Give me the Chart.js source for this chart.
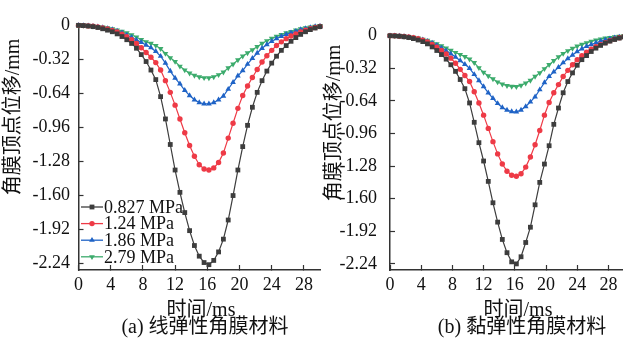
<!DOCTYPE html>
<html>
<head>
<meta charset="utf-8">
<script src="https://cdn.jsdelivr.net/npm/chart.js@4.4.1/dist/chart.umd.min.js"></script>
<style>
  html, body { margin: 0; padding: 0; background: #fff; width: 623px; height: 342px; overflow: hidden; }
  .panel { position: absolute; top: 0; width: 410px; height: 342px; }
  #wrapA { left: 0; }
  #wrapB { left: 318px; }
</style>
</head>
<body>
<div class="panel" id="wrapA"><canvas id="chartA" width="410" height="342"></canvas></div>
<div class="panel" id="wrapB"><canvas id="chartB" width="410" height="342"></canvas></div>
<script>
// time axis (ms)
var times = [0,0.6,1.2,1.8,2.4,3,3.6,4.2,4.8,5.4,6,6.6,7.2,7.8,8.4,9,9.6,10.2,10.8,11.4,12,12.6,13.2,13.8,14.4,15,15.6,16.2,16.8,17.4,18,18.6,19.2,19.8,20.4,21,21.6,22.2,22.8,23.4,24,24.6,25.2,25.8,26.4,27,27.6,28.2,28.8,29.4,30];
var xTicks = [0,4,8,12,16,20,24,28];
var yTicks = [0,-0.32,-0.64,-0.96,-1.28,-1.60,-1.92,-2.24];
var seriesNames = ['0.827 MPa','1.24 MPa','1.86 MPa','2.79 MPa'];

// (a) linear elastic
var linBlack = [0,-0.002,-0.006,-0.012,-0.02,-0.032,-0.045,-0.06,-0.08,-0.105,-0.135,-0.17,-0.215,-0.275,-0.34,-0.42,-0.51,-0.67,-0.88,-1.12,-1.36,-1.57,-1.76,-1.93,-2.07,-2.17,-2.23,-2.25,-2.21,-2.13,-2.01,-1.83,-1.60,-1.36,-1.14,-0.94,-0.77,-0.63,-0.52,-0.43,-0.355,-0.29,-0.235,-0.19,-0.15,-0.115,-0.085,-0.06,-0.04,-0.025,-0.012];
var linRed = [0,-0.002,-0.005,-0.009,-0.015,-0.024,-0.034,-0.047,-0.063,-0.083,-0.107,-0.135,-0.17,-0.21,-0.255,-0.30,-0.35,-0.42,-0.52,-0.63,-0.75,-0.88,-1.01,-1.13,-1.23,-1.31,-1.35,-1.36,-1.34,-1.29,-1.20,-1.06,-0.92,-0.78,-0.66,-0.57,-0.49,-0.415,-0.345,-0.285,-0.235,-0.19,-0.155,-0.125,-0.10,-0.08,-0.062,-0.046,-0.032,-0.02,-0.01];
var linBlue = [0,-0.002,-0.004,-0.008,-0.013,-0.02,-0.029,-0.04,-0.054,-0.071,-0.09,-0.112,-0.137,-0.16,-0.185,-0.21,-0.245,-0.29,-0.355,-0.43,-0.495,-0.55,-0.61,-0.66,-0.70,-0.725,-0.737,-0.737,-0.725,-0.70,-0.665,-0.60,-0.535,-0.475,-0.425,-0.365,-0.31,-0.26,-0.215,-0.18,-0.15,-0.125,-0.103,-0.085,-0.07,-0.055,-0.04,-0.03,-0.02,-0.012,-0.006];
var linGreen = [0,-0.001,-0.004,-0.007,-0.011,-0.017,-0.024,-0.033,-0.044,-0.057,-0.072,-0.09,-0.11,-0.135,-0.155,-0.17,-0.19,-0.22,-0.265,-0.305,-0.34,-0.385,-0.42,-0.45,-0.47,-0.485,-0.493,-0.495,-0.485,-0.465,-0.44,-0.40,-0.365,-0.325,-0.29,-0.26,-0.23,-0.20,-0.17,-0.145,-0.123,-0.104,-0.087,-0.072,-0.058,-0.045,-0.034,-0.025,-0.017,-0.01,-0.005];

// (b) viscoelastic
var visBlack = [0,-0.002,-0.005,-0.01,-0.018,-0.028,-0.042,-0.058,-0.08,-0.11,-0.145,-0.185,-0.23,-0.285,-0.35,-0.43,-0.52,-0.66,-0.85,-1.05,-1.23,-1.43,-1.64,-1.83,-2.00,-2.13,-2.22,-2.24,-2.17,-2.03,-1.88,-1.66,-1.44,-1.26,-1.08,-0.87,-0.71,-0.56,-0.45,-0.365,-0.29,-0.235,-0.195,-0.155,-0.122,-0.095,-0.072,-0.053,-0.037,-0.023,-0.012];
var visRed = [0,-0.001,-0.004,-0.008,-0.013,-0.02,-0.03,-0.043,-0.06,-0.085,-0.113,-0.145,-0.18,-0.22,-0.27,-0.33,-0.39,-0.45,-0.55,-0.66,-0.78,-0.91,-1.04,-1.16,-1.26,-1.33,-1.37,-1.38,-1.355,-1.29,-1.19,-1.07,-0.93,-0.78,-0.655,-0.56,-0.48,-0.40,-0.34,-0.285,-0.235,-0.196,-0.162,-0.133,-0.108,-0.087,-0.068,-0.05,-0.033,-0.02,-0.01];
var visBlue = [0,-0.001,-0.004,-0.008,-0.013,-0.02,-0.03,-0.041,-0.055,-0.073,-0.095,-0.12,-0.148,-0.178,-0.21,-0.245,-0.28,-0.32,-0.38,-0.44,-0.50,-0.56,-0.615,-0.665,-0.705,-0.73,-0.745,-0.748,-0.73,-0.695,-0.65,-0.60,-0.53,-0.46,-0.40,-0.355,-0.31,-0.265,-0.225,-0.19,-0.155,-0.128,-0.105,-0.086,-0.069,-0.054,-0.041,-0.03,-0.02,-0.012,-0.006];
var visGreen = [0,-0.001,-0.003,-0.007,-0.011,-0.017,-0.025,-0.035,-0.047,-0.062,-0.08,-0.1,-0.122,-0.145,-0.165,-0.185,-0.205,-0.23,-0.265,-0.315,-0.36,-0.395,-0.425,-0.455,-0.475,-0.49,-0.498,-0.5,-0.487,-0.465,-0.438,-0.40,-0.365,-0.325,-0.285,-0.245,-0.208,-0.175,-0.148,-0.125,-0.103,-0.085,-0.07,-0.056,-0.044,-0.034,-0.025,-0.018,-0.012,-0.007,-0.003];

var colors = ['#3d3d3d','#ee3a46','#1f63c6','#3cab6c'];
var markers = ['rect','circle','triangle','triangle'];
var markerRot = [0,0,0,180];
var markerSize = [3.4,2.7,3.3,3.3];

var serif = '"Liberation Serif", "Times New Roman", "Noto Sans CJK SC", serif';

function toPoints(vals) {
  return vals.map(function(v, i){ return {x: times[i], y: v}; });
}

function makeSets(list) {
  return list.map(function(vals, i){
    return {
      label: seriesNames[i],
      data: toPoints(vals),
      borderColor: colors[i],
      backgroundColor: colors[i],
      borderWidth: 1.2,
      pointStyle: markers[i],
      pointRotation: markerRot[i],
      pointRadius: markerSize[i],
      pointBorderWidth: 0,
      pointBackgroundColor: colors[i],
      tension: 0,
      clip: false
    };
  });
}

function drawMarker(ctx, style, rot, x, y, r, color) {
  ctx.fillStyle = color;
  ctx.beginPath();
  if (style === 'rect') {
    var s = r * Math.SQRT1_2;
    ctx.rect(x - s, y - s, 2 * s, 2 * s);
  } else if (style === 'circle') {
    ctx.arc(x, y, r, 0, Math.PI * 2);
  } else {
    var d = rot === 180 ? -1 : 1;
    ctx.moveTo(x, y - d * r);
    ctx.lineTo(x - r * 0.866, y + d * r * 0.5);
    ctx.lineTo(x + r * 0.866, y + d * r * 0.5);
    ctx.closePath();
  }
  ctx.fill();
}

// legend drawn inside the plot, lower left
var legendInside = {
  id: 'legendInside',
  afterDatasetsDraw: function(chart, args, opts) {
    var ctx = chart.ctx;
    chart.data.datasets.forEach(function(ds, i){
      var y = opts.y + i * opts.row;
      ctx.save();
      ctx.strokeStyle = ds.borderColor;
      ctx.lineWidth = 1.3;
      ctx.beginPath();
      ctx.moveTo(opts.x, y);
      ctx.lineTo(opts.x + opts.len, y);
      ctx.stroke();
      drawMarker(ctx, ds.pointStyle, ds.pointRotation, opts.x + opts.len / 2, y, ds.pointRadius, ds.borderColor);
      ctx.fillStyle = '#111';
      ctx.font = '18px ' + serif;
      ctx.textBaseline = 'middle';
      ctx.textAlign = 'left';
      ctx.fillText(ds.label, opts.x + opts.len + 1, y + 1);
      ctx.restore();
    });
  }
};

// axis titles and caption (positions in canvas px)
var textBits = {
  id: 'textBits',
  afterDraw: function(chart, args, opts) {
    var ctx = chart.ctx;
    opts.items.forEach(function(t){
      ctx.save();
      ctx.translate(t.x, t.y);
      if (t.rot) ctx.rotate(t.rot * Math.PI / 180);
      ctx.fillStyle = '#111';
      ctx.font = t.size + 'px ' + serif;
      ctx.textAlign = 'center';
      ctx.textBaseline = 'middle';
      ctx.fillText(t.text, 0, 0);
      ctx.restore();
    });
  }
};

function makeChart(id, list, cfg) {
  var axisCol = '#333';
  return new Chart(document.getElementById(id), {
    type: 'line',
    data: { datasets: makeSets(list) },
    plugins: cfg.legend ? [legendInside, textBits] : [textBits],
    options: {
      responsive: false,
      animation: false,
      events: [],
      layout: { padding: { top: cfg.top, right: cfg.right, left: 0, bottom: 24 } },
      plugins: {
        legend: { display: false },
        tooltip: { enabled: false },
        textBits: { items: [
          { text: '角膜顶点位移/mm', x: cfg.yTitle[0], y: cfg.yTitle[1], size: 20, rot: -90 },
          { text: '时间/ms', x: cfg.xTitle[0], y: cfg.xTitle[1], size: 20 },
          { text: cfg.caption, x: cfg.cap[0], y: cfg.cap[1], size: 20 }
        ] },
        legendInside: { x: 81, y: 207, row: 16.6, len: 22 }
      },
      scales: {
        x: {
          type: 'linear', min: 0, max: 30,
          afterBuildTicks: function(s){ s.ticks = xTicks.map(function(v){ return {value: v}; }); },
          afterFit: function(s){ s.height = 48; },
          grid: { drawOnChartArea: false, drawTicks: true, tickLength: -5, tickWidth: 1.2, tickColor: axisCol },
          border: { display: true, color: axisCol, width: 1.5 },
          ticks: { color: '#111', padding: 9, maxRotation: 0, autoSkip: false,
                   font: { family: serif, size: 18 } }
        },
        y: {
          min: -2.3, max: 0.01,
          afterBuildTicks: function(s){ s.ticks = yTicks.map(function(v){ return {value: v}; }); },
          afterFit: function(s){ s.width = cfg.yw; },
          grid: { drawOnChartArea: false, drawTicks: true, tickLength: -5, tickWidth: 1.2, tickColor: axisCol },
          border: { display: true, color: axisCol, width: 1.5 },
          ticks: { color: '#111', padding: cfg.ypad, autoSkip: false,
                   font: { family: serif, size: 18 },
                   callback: function(v){ return v === 0 ? '0' : v.toFixed(2); } }
        }
      }
    }
  });
}

var chartA = makeChart('chartA', [linBlack, linRed, linBlue, linGreen], {
  legend: true, top: 21, right: 90, yw: 78.5, ypad: 13.5,
  caption: '(a) 线弹性角膜材料',
  yTitle: [14, 117], xTitle: [201, 311], cap: [205, 328]
});
var chartB = makeChart('chartB', [visBlack, visRed, visBlue, visGreen], {
  legend: false, top: 34.7, right: 104, yw: 72, ypad: 18,
  caption: '(b) 黏弹性角膜材料',
  yTitle: [17, 123], xTitle: [200, 311], cap: [204, 328]
});
</script>
</body>
</html>
